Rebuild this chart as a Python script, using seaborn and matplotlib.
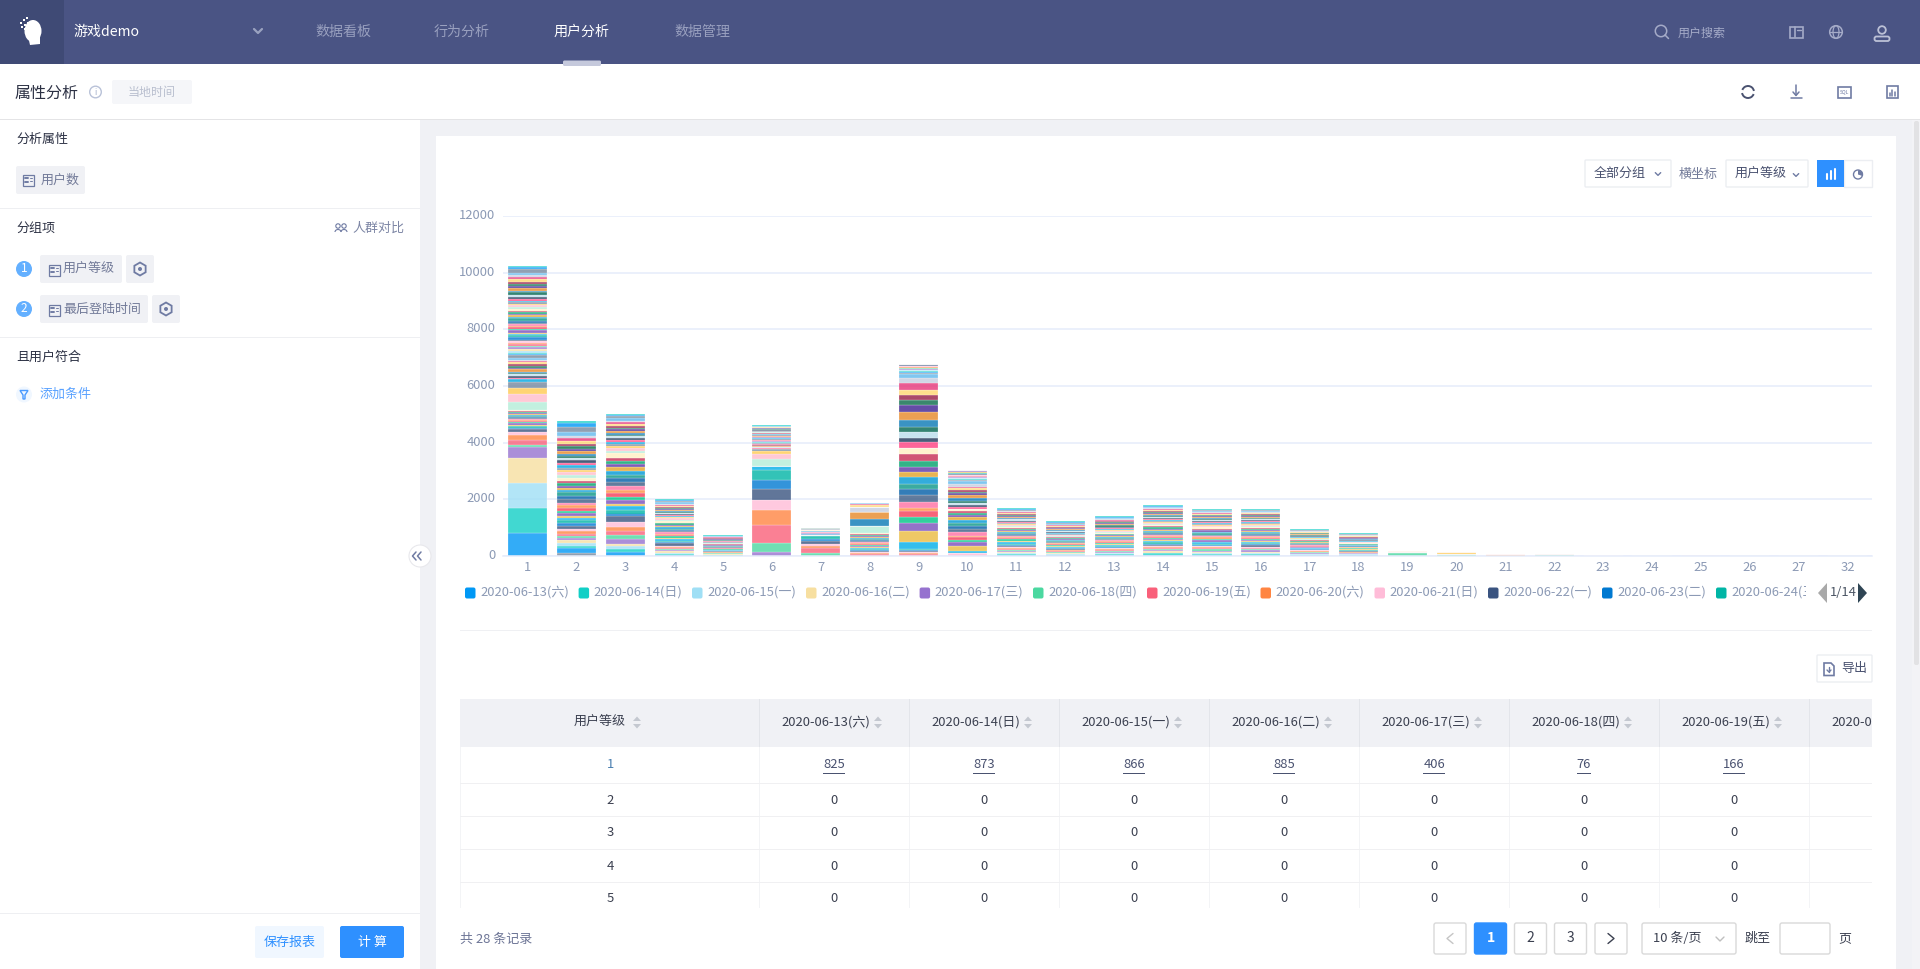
import matplotlib
matplotlib.use("Agg")
import matplotlib.pyplot as plt
from matplotlib.patches import Rectangle, FancyBboxPatch, Circle, Polygon, Ellipse, Arc, RegularPolygon
from matplotlib.transforms import Bbox, ScaledTranslation
import pandas as pd
import seaborn as sns

# ---------- data ----------
level_labels = [str(i) for i in range(1, 28)] + ["32"]

table_dates = ["2020-06-13(六)", "2020-06-14(日)", "2020-06-15(一)", "2020-06-16(二)",
               "2020-06-17(三)", "2020-06-18(四)", "2020-06-19(五)", "2020-06-20(六)",
               "2020-06-21(日)", "2020-06-22(一)", "2020-06-23(二)", "2020-06-24(三)"]
table_row1 = ["825", "873", "866", "885", "406", "76", "166"]
table_levels = ["2", "3", "4", "5"]
y_ticks = [0, 2000, 4000, 6000, 8000, 10000, 12000]

# each level: first series index, then users per consecutive series
start_1 = 0
level_1 = [825, 873, 866, 885, 406, 76, 166, 168, 110, 120,
           38, 42, 30, 36, 44, 28, 40, 34, 46, 32, 38, 42, 36, 30, 44, 38, 34, 38,
           270, 280, 215, 220,
           90, 60, 45, 70, 55, 40, 80, 50, 65, 60,
           75, 50, 45, 60, 85, 55, 40, 70, 50, 65,
           60, 45, 70, 55, 50, 80, 65, 40, 60, 75,
           55, 70, 45, 60, 50, 65, 85, 40, 60, 55,
           70, 45, 60, 80, 50, 55, 65, 40, 75, 60,
           70, 90, 65, 80, 75, 85, 60, 95, 70, 80, 80, 140, 70, 45]
start_2 = 46
level_2 = [110, 160, 100, 100, 90, 90, 70, 60, 110, 60,
           120, 85, 110, 75, 70, 95, 100, 80, 105, 90,
           140, 110, 120, 85, 60, 75, 95, 90, 105, 115,
           80, 70, 95, 75, 85, 110, 60, 75, 90, 75,
           100, 90, 80, 115, 100, 75, 120, 200, 130, 80]
start_3 = 47
level_3 = [130, 130, 90, 70, 170, 150, 160, 130, 170, 200,
           100, 140, 110, 90, 130, 110, 140, 120, 130, 150,
           120, 110, 140, 150, 100, 130, 80, 170, 90, 110,
           70, 60, 85, 50, 75, 60, 45, 80, 55, 70, 65, 50, 75, 55, 60, 90, 60, 50, 25]
start_4 = 47
level_4 = [25, 35, 40, 60, 50, 35, 45, 30, 50, 80,
           40, 55, 45, 30, 25, 60, 50, 35, 40, 45,
           55, 30, 50, 35, 60, 45, 30, 40, 55, 50,
           35, 25, 40, 30, 45, 35, 20, 30, 40, 25,
           40, 35, 30, 50, 45, 40, 55, 40, 25]
start_5 = 47
level_5 = [15, 10, 20, 12, 18, 25, 14, 10, 16, 20,
           12, 15, 18, 10, 14, 20, 16, 12, 18, 15,
           20, 14, 10, 16, 12, 18, 15, 22, 10, 13,
           12, 16, 10, 14, 18, 12, 15, 10, 13, 20,
           14, 10, 18, 12, 16, 20, 12, 18, 10]
start_6 = 4
level_6 = [150, 300, 630, 540, 370, 380, 330, 320, 160,
           0, 0, 0, 0, 0, 0, 0, 0, 0, 0, 0, 0, 0, 0, 0,
           240, 180, 120, 60,
           10, 14, 18, 12, 8, 15, 20, 10, 12, 16,
           14, 10, 18, 12, 20, 9, 13, 16, 11, 15,
           12, 18, 10, 14, 9, 16, 12, 15, 11, 13,
           16, 10, 14, 12, 18, 9, 13, 15, 10, 12,
           11, 15, 13, 10, 17, 12, 14, 9, 16, 11,
           14, 12, 16, 10, 13, 11, 15, 9, 18, 12,
           10, 12, 8, 10]
start_7 = 5
level_7 = [90, 210, 50, 70, 110, 60, 120, 40,
           0, 0, 0, 0, 0, 0, 0, 0, 0, 0, 0, 0, 0, 0, 0, 0, 0,
           0, 0, 0, 0, 0, 0, 0, 0, 0, 0, 0, 0, 0, 0, 0, 0, 0, 0,
           0, 0, 0, 0, 0, 0, 0, 0,
           8, 10, 6, 9, 7, 12, 8, 6, 10, 7, 9, 8, 6, 11, 7, 8,
           9, 6, 10, 7, 8, 6, 9, 7, 8, 10, 6, 8, 7, 9, 6, 7]
start_8 = 6
level_8 = [60, 50, 45, 35, 25, 40, 45, 30, 25, 35, 45, 30, 40, 30, 35, 30, 45, 35, 25, 40, 30, 45,
           230, 0, 0, 0, 0, 0, 0, 0, 0, 240, 260, 0, 0, 0, 0, 0, 170,
           0, 0, 0, 0, 0, 0, 0, 0, 0, 0, 0, 0, 0, 0, 0, 0, 0, 0, 0, 0, 0, 0,
           0, 0, 0, 0, 0, 0, 0, 0, 0, 0, 0, 0, 0, 0, 0, 0, 0, 0, 0, 0, 0, 0,
           90, 15, 15, 15, 15]
start_9 = 6
level_9 = [60, 50, 30, 30, 40, 40,
           230, 420, 250, 220, 210, 120, 220, 230, 200, 200, 230, 170, 200, 220, 220, 210,
           0, 0, 0, 0, 0,
           230, 140, 190, 200, 240, 300, 220, 200, 180, 170, 220, 190, 160,
           25, 30, 20, 35, 25, 30, 20, 25, 30, 20, 25, 35, 20]
start_10 = 8
level_10 = [90, 0, 0, 0, 100, 170, 120, 100, 100, 40, 110, 110, 130, 90, 120, 90, 80, 70, 80, 70,
            0, 0, 0, 0, 0,
            60, 70, 60, 90, 100, 90, 70, 60, 50, 70, 60, 90, 110,
            25, 15, 20, 30, 15, 20, 25, 20, 15, 25, 20, 15, 30, 20, 15, 25, 20, 15, 20, 10]
start_11 = 47
level_11 = [35, 25, 45, 30, 50, 40, 25, 35, 45, 30,
            40, 30, 55, 35, 25, 45, 30, 40, 35, 30,
            45, 25, 35, 50, 30, 40, 25, 35, 45, 30,
            30, 40, 25, 35, 30, 45, 25, 35, 30, 40,
            30, 25, 35, 40, 30, 25, 35, 30, 20]
start_12 = 47
level_12 = [25, 20, 30, 15, 25, 35, 20, 25, 30, 20,
            30, 20, 25, 35, 15, 25, 30, 20, 25, 15,
            20, 30, 25, 15, 35, 20, 25, 30, 20, 25,
            25, 20, 30, 15, 25, 20, 35, 25, 20, 30,
            25, 30, 20, 35, 25, 30, 20, 30, 45]
start_13 = 47
level_13 = [30, 25, 35, 20, 40, 30, 25, 35, 30, 20,
            35, 25, 30, 40, 20, 30, 35, 25, 30, 25,
            25, 35, 20, 30, 40, 25, 30, 35, 20, 30,
            30, 25, 35, 20, 30, 25, 40, 30, 25, 30,
            25, 30, 20, 35, 30, 25, 20, 30, 30]
start_14 = 47
level_14 = [50, 40, 30, 45, 35, 50, 40, 30, 35, 45,
            35, 50, 30, 40, 45, 30, 35, 50, 40, 30,
            40, 30, 45, 35, 30, 50, 40, 35, 30, 40,
            35, 45, 30, 40, 30, 35, 50, 30, 40, 35,
            30, 35, 25, 30, 40, 25, 30, 35, 20]
start_15 = 47
level_15 = [45, 35, 40, 30, 35, 50, 30, 40, 35, 30,
            35, 30, 45, 30, 40, 35, 30, 45, 30, 35,
            30, 40, 35, 30, 45, 30, 35, 40, 30, 35,
            35, 30, 40, 30, 35, 25, 40, 30, 35, 30,
            30, 25, 35, 30, 25, 30, 35, 25, 20]
start_16 = 47
level_16 = [40, 30, 50, 35, 45, 30, 40, 30, 35, 45,
            30, 40, 35, 50, 30, 35, 40, 30, 45, 35,
            35, 30, 40, 30, 45, 35, 30, 40, 35, 30,
            30, 35, 25, 40, 30, 35, 30, 25, 35, 30,
            35, 30, 25, 30, 35, 20, 25, 25, 20]
start_17 = 47
level_17 = [25, 20, 15, 25, 20, 30, 15, 20, 25, 15,
            20, 15, 25, 20, 15, 30, 20, 15, 25, 20,
            15, 20, 25, 15, 20, 15, 25, 20, 15, 20,
            20, 15, 20, 15, 25, 15, 20, 15, 20, 15,
            20, 15, 25, 15, 20, 15, 20, 20, 15]
start_18 = 47
level_18 = [20, 15, 25, 15, 20, 10, 15, 20, 15, 20,
            15, 20, 10, 15, 25, 15, 10, 20, 15, 15,
            15, 10, 20, 15, 10, 20, 15, 15, 10, 20,
            15, 10, 15, 20, 10, 15, 10, 15, 20, 15,
            20, 15, 25, 20, 15, 25, 20, 20, 20]
start_19 = 52
level_19 = [110, 16, 0, 0, 0, 0, 0, 0, 0, 0, 0, 0, 0, 0, 0, 0, 0, 0, 0, 0, 0, 0, 0, 0, 0, 50]
start_20 = 52
level_20 = [60, 0, 0, 0, 0, 0, 0, 0, 0, 0, 0, 0, 0, 0, 0, 0, 0, 0, 0, 0, 0, 0, 0, 0, 0, 70]
start_21 = 64
level_21 = [40, 35]
start_22 = 52
level_22 = [50, 25]
start_23 = 65
level_23 = [30]
start_24 = 66
level_24 = [15, 15]
start_25 = 72
level_25 = [15, 25]
start_26 = 50
level_26 = [15, 0, 20]
start_27 = 66
level_27 = [30]
start_32 = 49
level_32 = [20]

levels = [(start_1, level_1), (start_2, level_2), (start_3, level_3), (start_4, level_4),
          (start_5, level_5), (start_6, level_6), (start_7, level_7), (start_8, level_8),
          (start_9, level_9), (start_10, level_10), (start_11, level_11), (start_12, level_12),
          (start_13, level_13), (start_14, level_14), (start_15, level_15), (start_16, level_16),
          (start_17, level_17), (start_18, level_18), (start_19, level_19), (start_20, level_20),
          (start_21, level_21), (start_22, level_22), (start_23, level_23), (start_24, level_24),
          (start_25, level_25), (start_26, level_26), (start_27, level_27), (start_32, level_32)]

series_colors = ["#0098f5", "#11cfc6", "#9fdff5", "#f7dfa0", "#9672cf", "#4bd8a0", "#f9607a", "#ff8542",
                 "#ffbcd8", "#3a5480", "#0079d1", "#00b5a5",
                 "#00aee8", "#eabb3e", "#7a4fbb", "#00c485", "#f53c58", "#ff8c42", "#ff6fa3", "#3b5b85",
                 "#005da6", "#0a9688", "#0098d4", "#e4a128", "#5e34a6", "#00a06a", "#c62c52", "#fff0c2",
                 "#b3edd8", "#ffbccb", "#ffca50", "#74889f",
                 "#00a6e0", "#ff3f80", "#1e3659", "#b8dcec", "#006550", "#0878b5", "#e68828", "#3d2090",
                 "#086a48", "#961c44", "#ffd670", "#e63578", "#c5cde0", "#60b8ed", "#74889f"]
n_series = 96

# ---------- style ----------
sns.set_theme(style="white")
FONT = ["Noto Sans CJK SC", "DejaVu Sans"]
plt.rcParams["font.family"] = FONT

W, H = 1920, 969
fig = plt.figure(figsize=(W / 100, H / 100), dpi=100, facecolor="white")

ui = fig.add_axes([0, 0, 1, 1], zorder=0)
ui.set_xlim(0, W)
ui.set_ylim(H, 0)
ui.axis("off")

PT = 0.72
NAV = "#4a5484"
BG = "#f0f1f5"
INK = "#4a5270"
ICON = "#6f7ba3"
BLUE = "#2e90ff"


def rect(x0, y0, x1, y1, color, z=1, ec="none", lw=0):
    ui.add_patch(Rectangle((x0, y0), x1 - x0, y1 - y0, facecolor=color, edgecolor=ec, linewidth=lw, zorder=z))


def rrect(x0, y0, x1, y1, color, r=2, z=2, ec="none", lw=0):
    ui.add_patch(FancyBboxPatch((x0 + r, y0 + r), x1 - x0 - 2 * r, y1 - y0 - 2 * r,
                                boxstyle=f"round,pad={r},rounding_size={r}",
                                facecolor=color, edgecolor=ec, linewidth=lw, zorder=z))


def txt(x, y, s, px=13, color=INK, ha="left", weight="normal", z=5, clip=None):
    t = ui.text(x, y, s, fontsize=px * PT, color=color, ha=ha, va="center", fontweight=weight,
                zorder=z, family=FONT)
    if clip is not None:
        t.set_clip_box(Bbox.from_extents(clip[0], 0, clip[1], H))
        t.set_clip_on(True)
    return t


def line(xs, ys, color=ICON, lw=1.0, z=4):
    ui.plot(xs, ys, color=color, lw=lw, zorder=z, solid_capstyle="round", solid_joinstyle="round")


def chevron(x, y, s=3, color=ICON, lw=1.0, up=False):
    d = -s if up else s
    line([x - s, x, x + s], [y - d / 2, y + d / 2, y - d / 2], color, lw)


def card_icon(x, y, color=ICON):
    ui.add_patch(Rectangle((x - 5.5, y - 5.5), 11, 11, fill=False, ec=color, lw=0.9, zorder=4))
    line([x - 3, x - 0.5], [y - 2, y - 2], color, 1.4)
    line([x - 3, x - 0.5], [y + 2, y + 2], color, 1.4)
    line([x + 1.5, x + 3.5], [y - 2.5, y - 2.5], color, 0.7)
    line([x + 1.5, x + 3.5], [y + 0.5, y + 0.5], color, 0.7)


def gear(x, y):
    ui.add_patch(RegularPolygon((x, y), 6, radius=6.5, fill=False, ec=ICON, lw=1.3, zorder=4))
    ui.add_patch(Circle((x, y), 2, fc=ICON, ec="none", zorder=4))


def sort_arrows(x, y, color="#c4c8d0"):
    ui.add_patch(Polygon([[x - 4, y - 1.5], [x + 4, y - 1.5], [x, y - 6]], fc=color, ec="none", zorder=5))
    ui.add_patch(Polygon([[x - 4, y + 1.5], [x + 4, y + 1.5], [x, y + 6]], fc=color, ec="none", zorder=5))


# page backgrounds
rect(420, 120, W, H, BG, 0)
rect(436, 136, 1896, H, "white", 1)
rect(1912, 120, W, H, "#f3f3f6", 1)
rrect(1914, 121, 1919, 665, "#e2e2e4", 2, 2)

# nav bar
rect(0, 0, W, 64, NAV, 1)
rect(0, 0, 64, 64, "#3f4a75", 2)
ui.add_patch(Ellipse((33, 31), 17, 22, fc="white", ec="none", zorder=3))
ui.add_patch(Polygon([[28, 36], [40, 36], [40, 44], [30, 45]], fc="white", ec="none", zorder=3))
for dx, dy in [(20, 22), (23, 19), (26, 17), (21, 26), (24, 24), (27, 22), (24, 28)]:
    rect(dx, dy, dx + 2, dy + 2, "white", 3)
txt(73, 32, "游戏demo", 14, "white", weight="medium")
chevron(258, 31, 4, "#9aa2c0", 1.6)
for x, s, c in [(343, "数据看板", "#99a0bf"), (462, "行为分析", "#99a0bf"),
                (582, "用户分析", "white"), (702, "数据管理", "#99a0bf")]:
    txt(x, 32, s, 14, c, ha="center", weight="medium" if c == "white" else "normal")
rrect(563, 60.5, 601, 66, "#c5c9dc", 1.5, 3)
ui.add_patch(Circle((1661, 31), 5.7, fill=False, ec="#a5abc8", lw=1.1, zorder=4))
line([1665, 1668.5], [35, 38.5], "#a5abc8", 1.1)
txt(1678, 33, "用户搜索", 12, "#a5abc8")
ui.add_patch(Rectangle((1790, 26.5), 12.5, 11, fill=False, ec="#a5abc8", lw=1.2, zorder=4))
line([1795, 1795], [27, 37], "#a5abc8", 1.2)
line([1797, 1801], [30, 30], "#a5abc8", 1.0)
ui.add_patch(Circle((1836, 32), 6.3, fill=False, ec="#a5abc8", lw=1.1, zorder=4))
ui.add_patch(Ellipse((1836, 32), 6, 12.6, fill=False, ec="#a5abc8", lw=0.9, zorder=4))
line([1830, 1842], [32, 32], "#a5abc8", 0.9)
ui.add_patch(Circle((1882, 30), 3.8, fill=False, ec="#bcc1d6", lw=1.3, zorder=4))
ui.add_patch(FancyBboxPatch((1875, 37), 14, 3.5, boxstyle="round,pad=0.5,rounding_size=2",
                            fill=False, ec="#bcc1d6", lw=1.3, zorder=4))

# secondary header
rect(0, 64, W, 119, "white", 1)
rect(0, 119, W, 120, "#e4e4e6", 2)
txt(15, 93, "属性分析", 16, "#2c3144")
ui.add_patch(Circle((95.5, 92), 5.8, fill=False, ec="#b9c2d8", lw=1.0, zorder=4))
txt(95.5, 92, "i", 8, "#a0acc8", ha="center")
rrect(112, 80, 192, 104, "#f5f6f9", 2, 2)
txt(152, 92, "当地时间", 12, "#b9bfcf", ha="center")
ui.add_patch(Arc((1748, 92), 12, 12, theta1=20, theta2=170, ec=INK, lw=1.4, zorder=4))
ui.add_patch(Arc((1748, 92), 12, 12, theta1=200, theta2=350, ec=INK, lw=1.4, zorder=4))
line([1796, 1796], [85, 95], ICON, 1.1)
line([1793, 1796, 1799], [92, 95.5, 92], ICON, 1.1)
line([1790.5, 1801.5], [97.5, 97.5], ICON, 1.1)
ui.add_patch(Rectangle((1838, 86.5), 12.5, 11, fill=False, ec=ICON, lw=1.2, zorder=4))
txt(1844.2, 92, "SQL", 5, ICON, ha="center")
ui.add_patch(Rectangle((1886.5, 86), 11, 12, fill=False, ec=ICON, lw=1.2, zorder=4))
for dx, h in [(1889.5, 3), (1892, 6), (1894.5, 4)]:
    line([dx, dx], [96, 96 - h], ICON, 1.1)

# left panel
rect(0, 120, 420, H, "white", 1)
for y in (207.5, 336.5, 912.5):
    rect(0, y, 420, y + 1, "#eeeff2", 2)
txt(16, 139, "分析属性", 13, "#2c3144")
rrect(16, 166, 85, 194, BG, 2)
card_icon(28, 180)
txt(41, 180, "用户数", 13, "#737b99")
txt(16, 228, "分组项", 13, "#2c3144")
txt(404, 228, "人群对比", 13, "#7d86a5", ha="right")
for cx in (338, 344):
    ui.add_patch(Circle((cx, 226), 2.2, fill=False, ec=ICON, lw=0.8, zorder=4))
    ui.add_patch(Arc((cx, 232), 6, 5, theta1=180, theta2=360, ec=ICON, lw=0.8, zorder=4))
for n, y, x1, gx, s in [("1", 269, 122, 140, "用户等级"), ("2", 309, 148, 166, "最后登陆时间")]:
    ui.add_patch(Circle((24, y), 8, fc="#64b0ff", ec="none", zorder=3))
    txt(24, y, n, 12, "white", ha="center")
    rrect(40, y - 14, x1, y + 14, BG, 2)
    card_icon(54, y + 1)
    txt(63, y + 0.5, s, 13, "#737b99")
    rrect(x1 + 4, y - 14, x1 + 32, y + 14, BG, 2)
    gear(gx, y)
txt(16, 357, "且用户符合", 13, "#2c3144")
ui.add_patch(Circle((24, 394.5), 8, fc="#f0f7ff", ec="none", zorder=3))
ui.add_patch(Polygon([[20, 390.5], [28, 390.5], [25, 395], [25, 399], [23, 399], [23, 395]],
                     fill=False, ec="#4a9bff", lw=1.0, zorder=4))
txt(40, 394, "添加条件", 13, "#5aa2ff")
rrect(255, 926, 324, 958, "#f0f7ff", 2)
txt(289.5, 942, "保存报表", 13, BLUE, ha="center")
rrect(340, 926, 404, 958, BLUE, 2)
txt(372, 942, "计 算", 13, "white", ha="center", weight="medium")
ui.add_patch(Circle((420, 556), 11, fc="white", ec="#e8e8ec", lw=0.8, zorder=6))
for dx in (-3, 2):
    line([419 + dx, 415.5 + dx, 419 + dx], [552, 556, 560], ICON, 1.1, 7)

# chart controls
rrect(1585, 160, 1671, 187, "white", 1, 2, "#eceef2", 1)
txt(1594, 174, "全部分组", 13, INK)
chevron(1658, 174, 2.7)
txt(1679, 174, "横坐标", 13, "#737b99")
rrect(1726, 160, 1808, 187, "white", 1, 2, "#eceef2", 1)
txt(1735, 174, "用户等级", 13, INK)
chevron(1796, 175, 2.7)
rect(1817, 160, 1844, 187, BLUE, 3)
rect(1844, 160, 1872, 187, "white", 2, "#eceef2", 1)
for x, h in [(1827, 5), (1831, 8), (1835, 10)]:
    line([x, x], [179, 179 - h], "white", 1.5)
ui.add_patch(Circle((1858, 174.5), 4.5, fc="white", ec=ICON, lw=1.0, zorder=4))
ui.add_patch(Polygon([[1858, 174.5], [1858, 170], [1862.5, 172], [1862.5, 176]], fc=ICON, ec="none", zorder=4))

# legend
legend_x = [465, 578.6, 692, 806, 919.6, 1033, 1147, 1260.5, 1374.5, 1488, 1602, 1716]
for x, s, c in zip(legend_x, table_dates, series_colors[:12]):
    rrect(x, 587.5, x + 10.5, 598.5, c, 2, 3)
    txt(x + 15, 592, s, 13, "#8c9ab5", clip=(x, 1806))
ui.add_patch(Polygon([[1827, 583], [1827, 603], [1818, 593]], fc="#a9a9a9", ec="none", zorder=4))
txt(1843, 592.5, "1/14", 13, "#4b5564", ha="center")
ui.add_patch(Polygon([[1858, 583], [1858, 603], [1867, 593]], fc="#2f4554", ec="none", zorder=4))
rect(460, 629.5, 1872, 630.5, "#eff0f3", 2)

# export button
rrect(1817, 655, 1872, 682, "white", 1, 2, "#eceef2", 1)
ui.add_patch(Polygon([[1824, 663], [1831, 663], [1834, 666], [1834, 675.5], [1824, 675.5]],
                     fill=False, ec=ICON, lw=1.2, zorder=4))
line([1829, 1829], [667, 672], ICON, 1.0)
line([1827, 1829, 1831], [670, 672, 670], ICON, 1.0)
txt(1841, 668.5, "导出", 13, INK)

# table
rect(460, 699, 1872, 746.5, BG, 2)
col_edges = [759.5, 909.5, 1059.5, 1209.5, 1359.5, 1509.5, 1659.5, 1809.5]
for x in col_edges:
    rect(x - 0.5, 699, x + 0.5, 746.5, "#e3e5ea", 3)
    rect(x - 0.5, 746.5, x + 0.5, 908, "#f3f4f6", 3)
rect(460, 746.5, 461, 908, "#f3f4f6", 3)
for y in (782.5, 815.5, 848.5, 881.5):
    rect(460, y, 1872, y + 1, "#f0f0f2", 3)
txt(600, 722.5, "用户等级", 13, "#3b4050", ha="center")
sort_arrows(637, 722.5)
for i, d in enumerate(table_dates[:8]):
    c = 834 + 150 * i
    txt(c - 8, 722.5, d, 13, "#3b4050", ha="center", clip=(460, 1872))
    if i < 7:
        sort_arrows(c + 44, 722.5)
txt(610, 765, "1", 13, "#4a7fb0", ha="center")
for i, s in enumerate(table_row1):
    c = 834 + 150 * i
    txt(c, 765, s, 13, INK, ha="center")
    w = 3.6 * len(s)
    rect(c - w, 773, c + w, 774, INK, 4)
for y, lv in zip((800, 833, 866, 899), table_levels):
    txt(610, y, lv, 13, "#3b4050", ha="center")
    for i in range(7):
        txt(834 + 150 * i, y, "0", 13, "#3b4050", ha="center")

# pagination
txt(460, 939, "共 28 条记录", 13, "#6d7596")
for x0, s, active in [(1434, "‹", False), (1474.5, "1", True), (1514.5, "2", False),
                      (1554.5, "3", False), (1595, "›", False)]:
    rrect(x0, 923, x0 + 32, 954, BLUE if active else "white", 2, 2,
          BLUE if active else "#d9d9d9", 1)
    col = "white" if active else ("#c5c5c5" if x0 == 1434 else "#3b4050")
    if s in "‹›":
        d = -3 if s == "‹" else 3
        line([x0 + 16 - d, x0 + 16 + d, x0 + 16 - d], [933.5, 938.5, 943.5], col, 1.0)
    else:
        txt(x0 + 16, 938.5, s, 14, col, ha="center", weight="bold" if active else "normal")
rrect(1642, 923, 1736, 954, "white", 2, 2, "#d9d9d9", 1)
txt(1653, 938.5, "10 条/页", 13, "#3b4050")
chevron(1720, 939, 4, "#bfbfbf", 1.0)
txt(1745, 938.5, "跳至", 13, "#3b4050")
rrect(1780, 923, 1830, 954, "white", 2, 2, "#d9d9d9", 1)
txt(1838, 938.5, "页", 13, "#3b4050")

# ---------- chart ----------
ax = fig.add_axes([503 / W, 1 - 556 / H, 1369 / W, 340 / H], zorder=2)
ax.patch.set_alpha(0)

series_names = [f"series{i:03d}" for i in range(n_series)]
palette = {name: series_colors[i % len(series_colors)] for i, name in enumerate(series_names)}

rows = []
for label, (first, values) in zip(level_labels, levels):
    for offset, v in enumerate(values):
        if v > 0:
            rows.append({"level": label, "series": series_names[first + offset], "users": v})
df = pd.DataFrame(rows)
df["level"] = pd.Categorical(df["level"], categories=level_labels, ordered=True)

ax.set_axisbelow(True)
ax.yaxis.grid(True, color="#e6ecfa", lw=1.1)
ax.xaxis.grid(False)
sns.histplot(data=df, x="level", hue="series", weights="users", multiple="stack",
             hue_order=series_names[::-1], palette=palette, discrete=True, shrink=0.8,
             alpha=0.8, linewidth=0.16, edgecolor="white", legend=False, ax=ax)
ax.set_xlim(-0.5, 27.5)
ax.set_ylim(0, 12000)
ax.set_yticks(y_ticks)
ax.set_xlabel("")
ax.set_ylabel("")
sns.despine(ax=ax, left=True, top=True, right=True)
ax.spines["bottom"].set_color("#e6ecfa")
ax.spines["bottom"].set_linewidth(1.1)
ax.tick_params(axis="both", length=0, labelsize=13 * PT, labelcolor="#8c9ab5")
ax.tick_params(axis="y", pad=5.5)
ax.tick_params(axis="x", pad=3.3)
shift_up = ScaledTranslation(0, 1.5 / 72, fig.dpi_scale_trans)
for lab in ax.get_yticklabels():
    lab.set_transform(lab.get_transform() + shift_up)

fig.savefig("out.png", dpi=100, facecolor="white")
